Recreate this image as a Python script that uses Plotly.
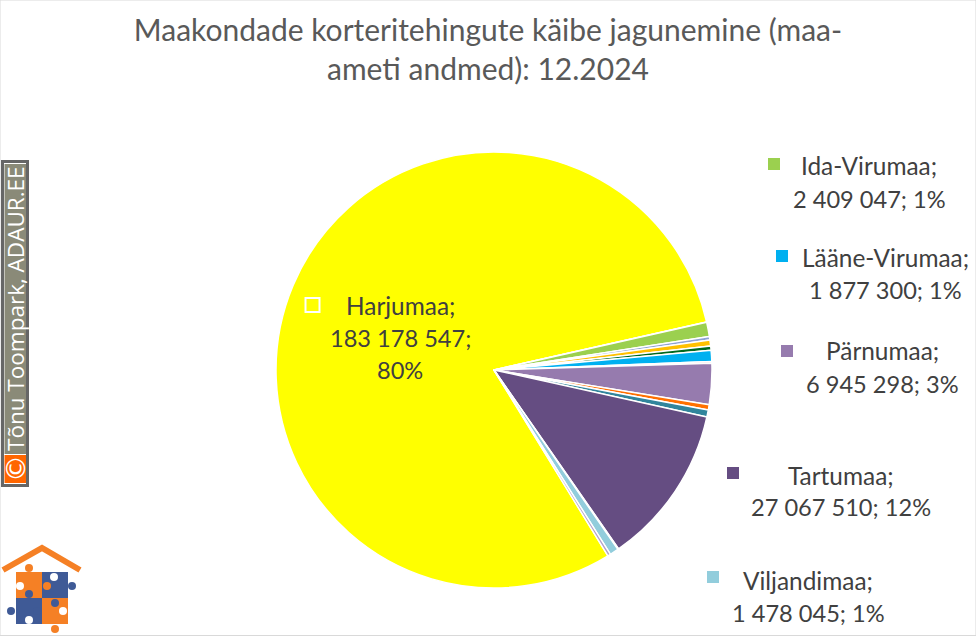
import plotly.graph_objects as go

W, H = 976, 637
FONT = "Lato"

regions = ["Harjumaa", "Hiiumaa", "Ida-Virumaa", "Jõgevamaa", "Järvamaa", "Läänemaa", "Lääne-Virumaa",
           "Põlvamaa", "Pärnumaa", "Raplamaa", "Saaremaa", "Tartumaa", "Valgamaa", "Viljandimaa", "Võrumaa"]
turnover = [183178547, 50000, 2409047, 600000, 1000000, 700000, 1877300,
            300000, 6945298, 900000, 1200000, 27067510, 150000, 1478045, 500000]
colors = ["#FFFF00", "#F4C7AB", "#9BD04F", "#8FA2D4", "#FFC000", "#00681E", "#00B0F0",
          "#E6B8B7", "#967BAE", "#FF7000", "#31859C", "#654D82", "#FCD5B5", "#92CDDC", "#B1A0C7"]

labelled = {
    "Harjumaa": (400, 305, 312.5, 305, True),
    "Ida-Virumaa": (869, 166, 774, 164, False),
    "Lääne-Virumaa": (885, 257, 782, 256, False),
    "Pärnumaa": (882, 351, 787, 351, False),
    "Tartumaa": (841, 475, 733, 473, False),
    "Viljandimaa": (808, 580, 713, 577, False),
}

def px(x): return x / W
def py(y): return 1 - y / H
def rect(x0, y0, x1, y1, fill, line=None, lw=0):
    return dict(type="rect", xref="paper", yref="paper", x0=px(x0), x1=px(x1), y0=py(y1), y1=py(y0),
                fillcolor=fill, line=dict(color=line or fill, width=lw), layer="above")
def circ(cx, cy, r, fill):
    return dict(type="circle", xref="paper", yref="paper", x0=px(cx-r), x1=px(cx+r), y0=py(cy+r), y1=py(cy-r),
                fillcolor=fill, line=dict(width=0), layer="above")

total = sum(turnover)
fig = go.Figure(go.Pie(
    labels=regions, values=turnover, sort=False, direction="clockwise", rotation=148.5,
    marker=dict(colors=colors, line=dict(color="#FFFFFF", width=1.5)),
    textinfo="none", hoverinfo="label+value+percent", showlegend=False,
    domain=dict(x=[px(276), px(712)], y=[py(588), py(152)]),
))

shapes, ann = [], []
# chart frame
shapes.append(dict(type="rect", xref="paper", yref="paper", x0=0, x1=1, y0=py(635.5), y1=1,
                   fillcolor="rgba(0,0,0,0)", line=dict(color="#D9D9D9", width=1), layer="below"))

for name, (tx, ty, kx, ky, outlined) in labelled.items():
    i = regions.index(name)
    v = turnover[i]
    pct = round(v / total * 100)
    vs = f"{v:,}".replace(",", " ")
    if name == "Harjumaa":
        lines = [name + ";", vs + ";", f"{pct}%"]
    else:
        lines = [name + ";", f"{vs}; {pct}%"]
    for k, line in enumerate(lines):
        yy = ty + k * 32.5
        ann.append(dict(text=line, x=px(tx), y=py(yy), xref="paper", yref="paper", showarrow=False,
                        xanchor="center", yanchor="middle",
                        font=dict(family=FONT, size=24.4 if k == 0 else 23.6, color="#404040")))
    if outlined:
        shapes.append(rect(kx-7, ky-7, kx+7, ky+7, colors[i], "#FFFFFF", 2))
    else:
        shapes.append(rect(kx-6, ky-6, kx+6, ky+6, colors[i]))

# copyright stamp
shapes.append(rect(2.5, 161.5, 27.5, 485.5, "#FFFFFF", "#666666", 3))
shapes.append(rect(4.5, 164, 26, 454, "#8A8A78"))
shapes.append(rect(4.5, 455, 26, 483, "#FF6600"))
ann.append(dict(text="Tõnu Toompark, ADAUR.EE", x=px(15), y=py(309), xref="paper", yref="paper", showarrow=False,
                textangle=-90, xanchor="center", yanchor="middle", font=dict(family="Open Sans", size=22.5, color="#FFFFFF")))
ann.append(dict(text="©", x=px(15), y=py(469), xref="paper", yref="paper", showarrow=False, textangle=-90,
                xanchor="center", yanchor="middle", font=dict(family="DejaVu Sans", size=27, color="#FFFFFF")))

# logo
OR, BL = "#F58025", "#3F5A96"
shapes.append(dict(type="path", xref="paper", yref="paper",
                   path=f"M {px(3)} {py(570)} L {px(42)} {py(548)} L {px(80)} {py(570)}",
                   line=dict(color=OR, width=6), fillcolor="rgba(0,0,0,0)", layer="above"))
shapes += [rect(16, 572, 42, 598, OR), rect(42, 572, 68, 598, BL), rect(16, 598, 42, 624, BL), rect(42, 598, 68, 624, OR)]
shapes += [circ(29, 568, 4, OR), circ(72, 586, 4, BL), circ(11, 611, 4, BL), circ(55, 629, 4, OR),
           circ(29, 594, 4, BL), circ(47, 586, 4, OR), circ(37, 611, 4, BL), circ(55, 603, 4, BL),
           circ(54, 577, 4, "#FFFFFF"), circ(20, 586, 4, "#FFFFFF"), circ(29, 620, 4, "#FFFFFF"), circ(63, 611, 4, "#FFFFFF")]

fig.update_layout(
    width=W, height=H, margin=dict(l=0, r=0, t=0, b=0), paper_bgcolor="#FFFFFF", plot_bgcolor="#FFFFFF",
    title=dict(text="Maakondade korteritehingute käibe jagunemine (maa-<br>ameti andmed): 12.2024",
               x=px(488), xanchor="center", y=py(41), yanchor="middle",
               font=dict(family=FONT, size=30, color="#595959")),
    shapes=shapes, annotations=ann,
)
fig.write_html("out.html", post_script="document.body.style.margin='0';", config=dict(displayModeBar=False))
